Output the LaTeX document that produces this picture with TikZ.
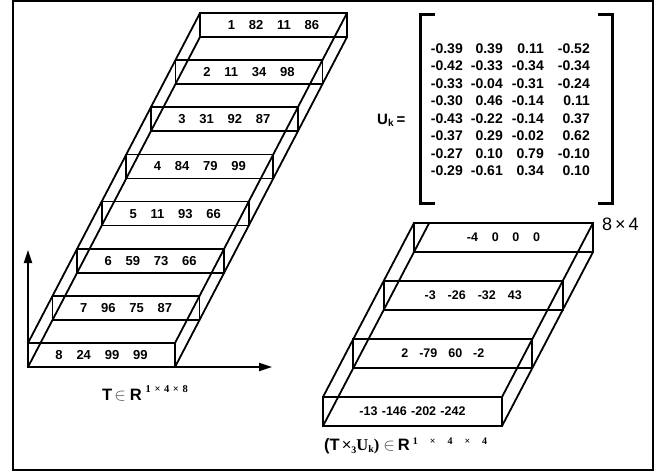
\documentclass[tikz,border=0pt]{standalone}
\usepackage{fontspec}
\setmainfont{Liberation Sans}
\newfontfamily\timesfont{Liberation Serif}
\usetikzlibrary{arrows.meta,calc}

\begin{document}
\begin{tikzpicture}[x=1pt,y=-1pt,
  edge/.style={line width=1.8pt},
  lrow/.style={draw, line width=1.8pt, minimum width=147pt, minimum height=24pt,
    inner sep=0pt, outer sep=0pt, anchor=north west,
    font=\fontsize{13}{15}\selectfont\bfseries},
  rrow/.style={draw, line width=1.8pt, minimum width=179pt, minimum height=29pt,
    inner sep=0pt, outer sep=0pt, anchor=north west,
    font=\fontsize{12.5}{14}\selectfont\bfseries},
  entry/.style={anchor=base east, inner sep=0pt,
    font=\fontsize{14}{16}\selectfont\bfseries},
  axis/.style={line width=1.8pt, -{Triangle[length=13pt,width=8pt]}},
  bracket/.style={line width=3pt},
  label/.style={anchor=base west, inner sep=0pt}]

\useasboundingbox (0,0) rectangle (660,472);
\draw[line width=1.8pt] (13,1) rectangle (653,470);

% tensor T: eight slices of a 1 x 4 x 8 block
\foreach \rowtext [count=\i] in {{1 82 11 86},{2 11 34 98},{3 31 92 87},{4 84 79 99},
                                 {5 11 93 66},{6 59 73 66},{7 96 75 87},{8 24 99 99}}
  \node[lrow] (l\i) at ({200-24.571*(\i-1)},{13+47.143*(\i-1)}) {\spaceskip=13.8pt \rowtext};
\draw[edge] (l1.north west) -- (l8.north west);
\draw[edge] (l1.south west) -- (l8.south west);
\draw[edge] (l1.north east) -- (l8.north east);
\draw[edge] (l1.south east) -- (l8.south east);

% axes at the front corner
\coordinate (ytip) at (28,250);
\coordinate (xtip) at (272,367);
\draw[axis] (l8.south west) -- (ytip);
\draw[axis] (l8.south west) -- (xtip);

\node[label] (tlab) at (102,400) {\fontsize{16.5}{18}\selectfont\bfseries
  T\hspace{2pt}{\color{black!70}$\in$}\hspace{4pt}R\hspace{4pt}\raisebox{8pt}{\timesfont\fontsize{10.5}{12}\selectfont\bfseries\spaceskip=3.6pt 1 × 4 × 8}};

% factor matrix U_k
\node[label, font=\fontsize{15}{17}\selectfont\bfseries] (uk) at (377,124)
  {U\raisebox{-2pt}{\fontsize{10}{12}\selectfont k}\hspace{3pt}=};
\draw[bracket] (435,14.7) -- (420.5,14.7) -- (420.5,203) -- (435,203);
\draw[bracket] (598,14.7) -- (612.5,14.7) -- (612.5,203) -- (598,203);
\foreach \a/\b/\c/\d [count=\i] in {
  -0.39/0.39/0.11/-0.52, -0.42/-0.33/-0.34/-0.34, -0.33/-0.04/-0.31/-0.24,
  -0.30/0.46/-0.14/0.11, -0.43/-0.22/-0.14/0.37, -0.37/0.29/-0.02/0.62,
  -0.27/0.10/0.79/-0.10, -0.29/-0.61/0.34/0.10} {
  \node[entry] (m\i-1) at (463,{53.3+17.5*(\i-1)}) {\a};
  \node[entry] (m\i-2) at (503,{53.3+17.5*(\i-1)}) {\b};
  \node[entry] (m\i-3) at (544,{53.3+17.5*(\i-1)}) {\c};
  \node[entry] (m\i-4) at (590,{53.3+17.5*(\i-1)}) {\d};
}
\node[label, font=\fontsize{18}{20}\selectfont] (dim) at (602,230) {8\hspace{3pt}×\hspace{3pt}4};

% product tensor: four slices of a 1 x 4 x 4 block
\foreach \rowtext/\gap [count=\i] in {{-4 0 0 0}/13.7,{-3 -26 -32 43}/12,
                                      {2 -79 60 -2}/11,{-13 -146 -202 -242}/4.3}
  \node[rrow] (r\i) at ({414-30.333*(\i-1)},{223+58*(\i-1)}) {\spaceskip=\gap pt \rowtext};
\draw[edge] (r1.north west) -- (r4.north west);
\draw[edge] (r1.north east) -- (r4.north east);
\draw[edge] (r1.south east) -- (r4.south east);
\draw[edge] (r4.south west) -- ($(r4.south west)!1.1667!(r1.south west)$);

\node[label] (plab) at (324,450) {\fontsize{16.5}{18}\selectfont\bfseries
  (T\hspace{2pt}{\mdseries ×}\raisebox{-3pt}{\timesfont\fontsize{10}{12}\selectfont 3}{\timesfont U\raisebox{-2pt}{\fontsize{10}{12}\selectfont k})}\hspace{4pt}{\color{black!70}$\in$}\hspace{3pt}R\hspace{3pt}\raisebox{6pt}{\timesfont\fontsize{10}{12}\selectfont\bfseries\spaceskip=12pt 1 × 4 × 4}};
\end{tikzpicture}
\end{document}
